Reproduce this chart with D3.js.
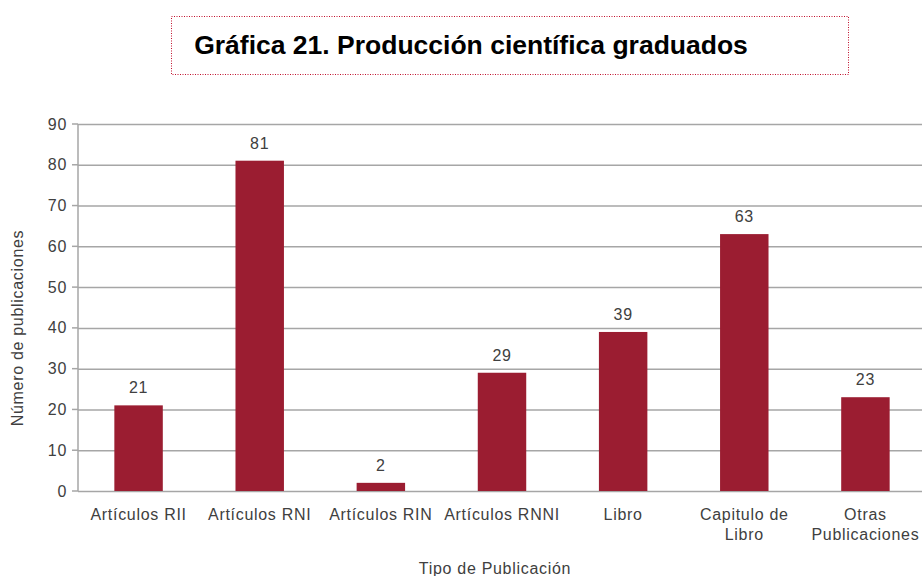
<!DOCTYPE html>
<html>
<head>
<meta charset="utf-8">
<script src="https://cdn.jsdelivr.net/npm/d3@7/dist/d3.min.js"></script>
<style>
  body { margin: 0; background: #fff; overflow: hidden; }
  svg { display: block; font-family: "Liberation Sans", Arial, sans-serif; }
  .grid line { stroke: #a6a6a6; stroke-width: 1.5; }
  .grid path { display: none; }
  .tick-label { fill: #404040; font-size: 16px; letter-spacing: 0.7px; }
</style>
</head>
<body>
<div id="chart"></div>
<script>
// data
var categories = ["Artículos RII", "Artículos RNI", "Artículos RIN", "Artículos RNNI", "Libro", "Capitulo de Libro", "Otras Publicaciones"];
var values = [21, 81, 2, 29, 39, 63, 23];
var yTicks = [0, 10, 20, 30, 40, 50, 60, 70, 80, 90];

var width = 922, height = 576;
var margin = {top: 124, left: 78, bottom: 85};
var plotW = 848, plotH = height - margin.top - margin.bottom;

var svg = d3.select("#chart").append("svg")
    .attr("width", width)
    .attr("height", height);

// title box
svg.append("rect")
    .attr("x", 171.5).attr("y", 16.5)
    .attr("width", 677).attr("height", 58)
    .attr("fill", "none")
    .attr("stroke", "#c0102c")
    .attr("stroke-width", 1)
    .attr("stroke-dasharray", "1,1.5");

svg.append("text")
    .attr("x", 471).attr("y", 54)
    .attr("text-anchor", "middle")
    .style("font-size", "26.5px")
    .style("font-weight", "bold")
    .style("fill", "#000")
    .text("Gráfica 21. Producción científica graduados");

var g = svg.append("g")
    .attr("transform", "translate(" + margin.left + "," + margin.top + ")");

var x = d3.scaleBand().domain(categories).range([0, plotW]).paddingInner(0.6).paddingOuter(0.3);
var y = d3.scaleLinear().domain([0, 90]).range([plotH, 0]);

// horizontal grid
g.append("g")
    .attr("class", "grid")
    .call(d3.axisLeft(y).tickValues(yTicks).tickSize(-plotW).tickFormat(""));

// y axis line and ticks
g.append("line")
    .attr("x1", 0).attr("x2", 0)
    .attr("y1", 0).attr("y2", plotH)
    .attr("stroke", "#a6a6a6").attr("stroke-width", 1.5);

g.selectAll(".ytick")
    .data(yTicks)
    .enter().append("line")
    .attr("x1", -6).attr("x2", 0)
    .attr("y1", function(d) { return y(d); })
    .attr("y2", function(d) { return y(d); })
    .attr("stroke", "#a6a6a6").attr("stroke-width", 1.5);

g.selectAll(".ylabel")
    .data(yTicks)
    .enter().append("text")
    .attr("class", "tick-label")
    .attr("x", -11)
    .attr("y", function(d) { return y(d); })
    .attr("dy", "0.35em")
    .attr("text-anchor", "end")
    .text(function(d) { return d; });

// bars
g.selectAll(".bar")
    .data(values)
    .enter().append("rect")
    .attr("x", function(d, i) { return x(categories[i]); })
    .attr("y", function(d) { return y(d); })
    .attr("width", x.bandwidth())
    .attr("height", function(d) { return plotH - y(d); })
    .attr("fill", "#9b1d31");

// value labels
g.selectAll(".val")
    .data(values)
    .enter().append("text")
    .attr("class", "tick-label")
    .attr("x", function(d, i) { return x(categories[i]) + x.bandwidth() / 2; })
    .attr("y", function(d) { return y(d) - 12; })
    .attr("text-anchor", "middle")
    .text(function(d) { return d; });

// category labels (wrapped like the original)
var catLines = {
  "Capitulo de Libro": ["Capitulo de", "Libro"],
  "Otras Publicaciones": ["Otras", "Publicaciones"]
};
categories.forEach(function(c) {
  var lines = catLines[c] || [c];
  var t = g.append("text")
      .attr("class", "tick-label")
      .attr("text-anchor", "middle")
      .attr("y", plotH + 29);
  lines.forEach(function(l, j) {
    t.append("tspan")
      .attr("x", x(c) + x.bandwidth() / 2)
      .attr("dy", j === 0 ? 0 : 20)
      .text(l);
  });
});

// axis titles
svg.append("text")
    .attr("class", "tick-label")
    .attr("x", 495).attr("y", 574)
    .attr("text-anchor", "middle")
    .text("Tipo de Publicación");

svg.append("text")
    .attr("class", "tick-label")
    .attr("transform", "translate(23,328) rotate(-90)")
    .attr("text-anchor", "middle")
    .text("Número de publicaciones");
</script>
</body>
</html>
